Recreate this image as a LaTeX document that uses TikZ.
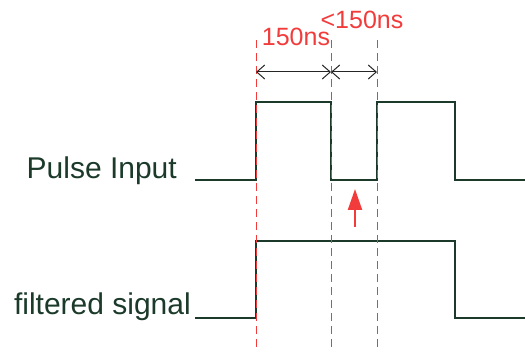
\documentclass[tikz,border=0pt]{standalone}
\usepackage{fontspec}
\setmainfont{Liberation Sans}
\usetikzlibrary{arrows.meta}
\definecolor{sig}{HTML}{1B3A2A}
\definecolor{redl}{HTML}{F23B3B}
\tikzset{
  signal/.style={draw=sig, line width=2.4pt, line cap=butt, line join=miter},
  guide/.style={draw=redl, line width=1pt, dash pattern=on 8pt off 5pt},
  dim/.style={draw=black!85, line width=1pt, {Straight Barb[length=8pt,width=14pt]}-{Straight Barb[length=8pt,width=14pt]}},
  lbl/.style={text=sig, font=\fontsize{30}{33}\selectfont, inner sep=0pt, anchor=base east},
  rlbl/.style={text=redl, font=\fontsize{25}{28}\selectfont, inner sep=0pt, anchor=base},
}
\begin{document}
\begin{tikzpicture}[x=1pt,y=-1pt]
\useasboundingbox (0,0) rectangle (525,352);
% guide lines
\coordinate (g1t) at (256,40); \coordinate (g1b) at (256,352);
\coordinate (g2t) at (331,40); \coordinate (g2b) at (331,352);
\coordinate (g3t) at (377,40); \coordinate (g3b) at (377,352);
% signals
\draw[signal] (195,180) -- (256,180) -- (256,102) -- (331,102) -- (331,180) -- (377,180) -- (377,102) -- (455,102) -- (455,180) -- (525,180);
\draw[signal] (195,318) -- (256,318) -- (256,241) -- (455,241) -- (455,318) -- (525,318);
\draw[guide] (g1t) -- (g1b);
\draw[guide] (g2t) -- (g2b);
\draw[guide] (g3t) -- (g3b);
% dimension arrows
\coordinate (d1) at (256,72); \coordinate (d2) at (331,72); \coordinate (d3) at (377,72);
\draw[dim] (d1) -- (d2);
\draw[dim] (d2) -- (d3);
% labels
\node[rlbl] (t1) at (296,46) {150ns};
\node[rlbl] (t2) at (362,29) {<150ns};
\node[lbl] (pi) at (177,179) {Pulse Input};
\node[lbl] (fs) at (191,315) {filtered signal};
% red arrow
\coordinate (ab) at (355,227); \coordinate (at) at (355,189);
\draw[draw=redl, line width=2.2pt, -{Triangle[length=21pt,width=14pt]}] (ab) -- (at);
\end{tikzpicture}
\end{document}
